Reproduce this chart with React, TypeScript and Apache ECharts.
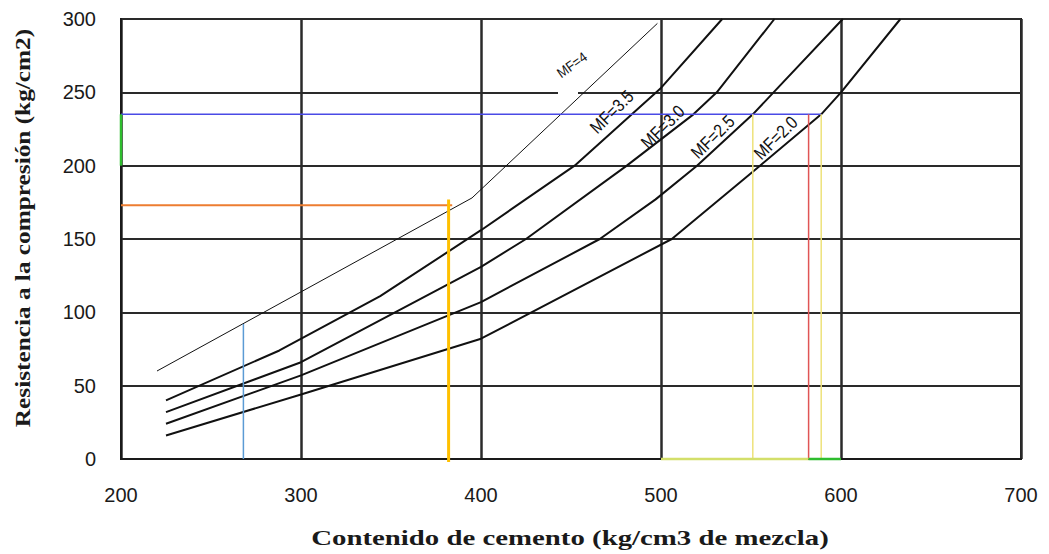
import React, { useEffect, useRef } from "react";
import * as echarts from "echarts";

// Curves: [cement content, compressive strength]
const mf4: number[][] = [[220, 60], [395, 178], [498, 297]];
const mf35: number[][] = [[225, 40], [288, 74], [344, 111], [400, 156], [452, 200], [500, 253], [534, 300]];
const mf30: number[][] = [[225, 32], [300, 66], [400, 131], [425, 150], [481, 200], [518, 235], [531, 250], [563, 300]];
const mf25: number[][] = [[225, 24], [300, 57], [400, 107], [466, 150], [497, 177], [520, 200], [551, 235], [601, 300]];
const mf20: number[][] = [[225, 16], [300, 44], [400, 82], [506, 150], [555, 200], [589, 235], [600, 250], [633, 300]];

// Reading lines
const blueH: number[][] = [[200, 235], [589, 235]];
const yellowV1: number[][] = [[551, 0], [551, 235]];
const yellowV2: number[][] = [[589, 0], [589, 235]];
const redV: number[][] = [[582, 0], [582, 235]];
const orangeH: number[][] = [[200, 173], [384, 173]];
const goldV: number[][] = [[382, -2], [382, 177]];
const blueV: number[][] = [[268, 0], [268, 92]];
const greenLeft: number[][] = [[200, 200], [200, 235]];
const greenBottom: number[][] = [[582, 0], [600, 0]];
const limeBottom: number[][] = [[500, 0], [582, 0]];

const xMin = 200, xMax = 700, xStep = 100;
const yMin = 0, yMax = 300, yStep = 50;

const curveLabels = ["MF=4", "MF=3.5", "MF=3.0", "MF=2.5", "MF=2.0"];

const xTitle = "Contenido de cemento (kg/cm3 de mezcla)";
const yTitle = "Resistencia a la compresión (kg/cm2)";

export default function App() {
  const ref = useRef<HTMLDivElement>(null);
  useEffect(() => {
    document.body.style.margin = "0";
    if (!ref.current) return;
    const chart = echarts.init(ref.current, undefined, { renderer: "svg" });
    const line = (data: number[][], color: string, width: number, z = 3, clip = true) => ({
      type: "line",
      data,
      symbol: "none",
      silent: true,
      clip,
      z,
      lineStyle: { color, width, cap: "butt" },
    });
    const labelFont = "'Liberation Sans', Arial, sans-serif";
    const serif = "'Liberation Serif', 'Times New Roman', serif";
    // x, y, fontSize, rotation
    const labelPos = [
      [572, 65, 14, 0.62],
      [612, 112, 18, 0.78],
      [663, 127, 18, 0.78],
      [713, 137, 18, 0.78],
      [776, 138, 18, 0.78],
    ];
    chart.setOption({
      animation: false,
      grid: {
        left: 121,
        right: 28,
        top: 19,
        bottom: 95,
        show: true,
        borderColor: "#1a1a1a",
        borderWidth: 2,
        backgroundColor: "transparent",
      },
      xAxis: {
        type: "value",
        min: xMin,
        max: xMax,
        interval: xStep,
        axisLine: { show: true, lineStyle: { color: "#1a1a1a", width: 2 } },
        axisTick: { show: false },
        splitLine: { show: true, lineStyle: { color: "#2a2a2a", width: 2.5 } },
        axisLabel: { color: "#1a1a1a", fontSize: 20, fontFamily: labelFont, margin: 26 },
      },
      yAxis: {
        type: "value",
        min: yMin,
        max: yMax,
        interval: yStep,
        axisLine: { show: true, lineStyle: { color: "#1a1a1a", width: 2 } },
        axisTick: { show: false },
        splitLine: { show: true, lineStyle: { color: "#2a2a2a", width: 2 } },
        axisLabel: { color: "#1a1a1a", fontSize: 20, fontFamily: labelFont, margin: 25 },
      },
      series: [
        line(mf4, "#111", 1),
        line(mf35, "#111", 2),
        line(mf30, "#111", 2),
        line(mf25, "#111", 2),
        line(mf20, "#111", 2),
        line(blueH, "#4a4ae6", 1.5, 4),
        line(yellowV1, "#eee27a", 1.5, 4),
        line(yellowV2, "#eee27a", 1.5, 4),
        line(redV, "#e05555", 1.5, 4),
        line(orangeH, "#ed7d31", 2, 4),
        line(goldV, "#ffc000", 3, 5, false),
        line(blueV, "#5b9bd5", 1.5, 4),
        line(greenLeft, "#2ebd2e", 2.5, 5, false),
        line(limeBottom, "#d3df6a", 2.5, 5, false),
        line(greenBottom, "#2ebd2e", 2.5, 5, false),
      ],
      graphic: [
        { type: "rect", shape: { x: 558, y: 89, width: 20, height: 6 }, style: { fill: "#fff" }, z: 1 },
        ...curveLabels.map((t, i) => ({
          type: "text",
          x: labelPos[i][0],
          y: labelPos[i][1],
          rotation: labelPos[i][3],
          scaleX: i === 0 ? 0.92 : 0.86,
          z: 10,
          style: {
            text: t,
            fontSize: labelPos[i][2],
            fontFamily: labelFont,
            fill: "#111",
            align: "center",
            verticalAlign: "middle",
          },
        })),
        {
          type: "text",
          x: 570,
          y: 538,
          scaleX: 1.31,
          style: {
            text: xTitle,
            fontSize: 22,
            fontWeight: "bold",
            fontFamily: serif,
            fill: "#1a1a1a",
            align: "center",
            verticalAlign: "middle",
          },
        },
        {
          type: "text",
          x: 23,
          y: 228,
          rotation: Math.PI / 2,
          scaleX: 1.15,
          style: {
            text: yTitle,
            fontSize: 22,
            fontWeight: "bold",
            fontFamily: serif,
            fill: "#1a1a1a",
            align: "center",
            verticalAlign: "middle",
          },
        },
      ],
    });
    return () => chart.dispose();
  }, []);
  return <div ref={ref} style={{ width: 1049, height: 554 }} />;
}
